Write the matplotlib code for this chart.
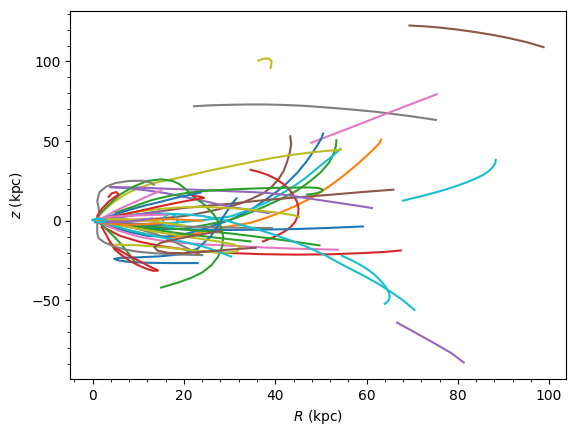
import matplotlib
matplotlib.use("Agg")
import matplotlib.pyplot as plt
from matplotlib.ticker import MultipleLocator

# Orbits in (R [kpc], z [kpc])
orbit_brown_top = [(69.4, 122.6), (73, 122.0), (76, 121.3), (80, 120.0), (84.2, 118.3), (88, 116.5),
                   (91, 114.8), (95, 112.2), (98.8, 109)]
orbit_olive_hook = [(36.3, 100.6), (37.5, 101.8), (38.6, 101.8), (39.2, 100.2), (39.1, 97.5), (39.0, 96.0)]
orbit_gray_high = [(22.2, 71.9), (26, 72.5), (30, 72.8), (34, 73), (38, 73), (42, 72.7), (46, 72.2),
                   (50, 71.4), (54, 70.5), (58, 69.5), (62, 68.4), (66, 67.0), (70, 65.5), (75.2, 63.3)]
orbit_pink_far = [(47.9, 49), (55, 56.8), (62, 64.6), (68, 71.3), (75.4, 79.4)]
orbit_cyan_far = [(68, 12.6), (70, 14), (72, 15.4), (74, 16.9), (76, 18.5), (78, 20.2), (80, 22.1),
                  (82, 24.2), (84, 26.6), (85.5, 28.7), (86.7, 31), (87.6, 33.5), (88.2, 36), (88.3, 38.2)]
orbit_orange = [(1, 0), (4, -3), (8, -6), (12, -8.5), (17, -10.5), (21, -9), (25, -6.5), (30, -3.5),
                (34.6, -1.3), (38, 1.8), (41, 5), (44, 8.7), (47, 13), (50, 18), (53, 24), (55.5, 29.5),
                (58, 35.5), (60.5, 42), (62.8, 48.5), (63.2, 51)]
orbit_brown_vert = [(2, 0), (8, 0.5), (13, 1), (17, 2), (21, 3.3), (24, 5), (27, 6.8), (30.2, 9),
                    (32.5, 11), (35, 14), (37.5, 17.4), (39.3, 21.5), (40.7, 26), (41.8, 31),
                    (42.6, 37), (43.2, 43), (43.5, 48), (43.3, 53)]
orbit_blue_tall = [(1, -1), (4, -4), (8, -7), (12, -9.5), (16, -10), (20, -8.5), (24, -5.5), (27, -2.5),
                   (30.2, 0.6), (33, 4.5), (35.5, 8.5), (37.5, 12.5), (40, 17.5), (42.5, 23.5),
                   (44.8, 30), (46.8, 37), (48.6, 44.5), (50.0, 51), (50.5, 54.7)]
orbit_green_tall = [(2, -1), (6, -3), (10, -4.5), (15, -5.5), (20, -5), (25, -2.5), (30.2, 0.6),
                    (34, 4.5), (37.5, 8.7), (41, 13.3), (44.8, 19), (47.5, 24.5), (50, 30.5),
                    (51.8, 36.5), (52.8, 42), (53.3, 47), (53.4, 50.5)]
orbit_cyan_tall = [(3, -1), (9, -2), (15, -2), (21, -0.5), (26, 1), (30.2, 2.7), (35, 7.5), (38.5, 12),
                   (41.1, 16.5), (44, 21.5), (46.5, 26.5), (48.6, 31.5), (50.5, 36), (52.5, 40.5),
                   (54.3, 45.1)]
orbit_olive_long = [(0.5, 0), (1.3, 3), (2.7, 7), (4.5, 11.5), (6.8, 16), (9.5, 20), (13.4, 23.7),
                    (17, 25.8), (21, 28.4), (25.5, 31.4), (30.2, 34.2), (35, 37), (39, 39.2),
                    (43, 41.1), (47, 42.6), (51, 43.8), (54.3, 44.5)]
orbit_red_arc = [(34.6, 32), (36.5, 30.6), (38.5, 28.6), (40.3, 26), (41.8, 23), (43.1, 19.5), (44.1, 15.5),
                 (44.8, 11.5), (45.1, 7.5), (45, 3.5), (44.4, -0.5), (43.3, -4.2), (41.6, -7.5),
                 (39.6, -10.4), (37.3, -13)]
orbit_brown_flat = [(3, 1), (10, 4), (20, 8), (30.2, 10.7), (37.5, 12.9), (45, 14.7), (52, 16.3),
                    (59, 18), (65.9, 19.5)]
orbit_purple_flat = [(3.9, 21.2), (10, 20.8), (17, 20), (24, 19.3), (30.2, 18.5), (35, 18), (40, 17),
                     (44, 15.5), (48, 13.7), (51.5, 12.2), (55, 10.7), (58, 9.4), (61.2, 8)]
orbit_purple_mid = [(3.9, 21), (8, 20.3), (12, 19), (16, 17.3), (20, 15), (24, 12.6), (28, 10), (31, 8.3),
                    (34, 7), (36.5, 5.8), (38.6, 4.8)]
orbit_green_hairpin = [(5, 5), (9, 9), (13, 13), (17, 15.7), (21, 17.6), (25.5, 18.9), (30, 19.6), (35, 20.2),
                       (40, 20.6), (44, 20.8), (47, 20.9), (49.3, 20.6), (50.4, 19.6), (50.1, 18.3),
                       (49, 17.2), (47, 16.4)]
orbit_blue_flat = [(2, -1), (6, -2.6), (10, -3.8), (15, -4.8), (20, -5.4), (25, -5.7), (30.2, -5.8),
                   (37, -5.6), (44.8, -5.2), (52, -4.5), (59.2, -3.6)]
orbit_gray_flat = [(2, 0), (8, -1.6), (15, -3), (22, -3.8), (30, -4.3), (39.3, -4.6)]
orbit_green_low_a = [(1, 0), (5, -1.5), (10, -3), (15, -4.2), (20, -5.5), (25, -6.6), (30.2, -8),
                     (35, -9.7), (40, -11.5), (45, -13.5), (49.7, -15.5)]
orbit_green_low_b = [(1, 0), (6, -2.3), (12, -5), (18, -7.5), (25, -10), (30, -11.6), (34.6, -13)]
orbit_pink_low = [(2, -2), (6, -6.5), (10, -10), (15, -12.5), (20, -14), (25, -15), (30.2, -15.7),
                  (37.5, -16.8), (45, -17.6), (53.7, -18.2)]
orbit_red_low = [(3, -5), (6, -9.5), (10, -13), (15, -16), (20, -18), (25, -19.4), (30.2, -20.3),
                 (37, -21), (44.8, -21.3), (52, -21.1), (59.4, -20.3), (64, -19.6), (67.5, -18.7)]
orbit_cyan_diag = [(1, 0), (5, 2.5), (10, 4), (15, 4.5), (20, 4), (24, 3), (27, 1.5), (30, -0.5), (33, -3),
                   (36.5, -5.8), (40, -9), (43.5, -12.5), (47, -16.5), (50.8, -21.5), (54.3, -27),
                   (57.2, -31.3), (60, -35.5), (62.8, -40), (65.5, -45), (68, -50), (70.5, -56)]
orbit_cyan_hook = [(54.6, -22), (56.5, -24.5), (58.4, -27.3), (60.2, -30.5), (61.8, -34), (63.1, -37.7),
                   (64.2, -41.5), (64.9, -45), (65.1, -48), (64.7, -50.5), (64, -52.2)]
orbit_purple_low = [(66.7, -64), (70.5, -70), (74.7, -76.7), (78.5, -83), (81.3, -89)]
orbit_green_loop = [(15, -42), (18.5, -39), (21.5, -36), (24, -32.5), (26, -28), (27.5, -22.5),
                    (28.4, -16), (28.6, -9.9), (28, -3), (26.5, 4), (24.5, 10), (22, 15.3),
                    (20.5, 19.5), (19, 23), (17.5, 25), (15, 26), (12, 25), (9, 21.5), (6, 16.5),
                    (3.5, 10), (1.5, 4), (1, 2)]
orbit_green_drop = [(1, 0), (2.5, -4), (4, -8), (5.7, -13), (7.3, -18.5), (8.5, -23), (9.5, -27)]
orbit_blue_loop = [(23, -26.6), (17, -26.6), (12, -26.4), (8, -25.9), (5.7, -25), (4.7, -24), (6, -23.3),
                   (10, -23), (15, -22.3), (19.6, -21), (23, -17.5), (25.8, -10), (27.5, -3), (28.5, 2),
                   (29.8, 7.5), (30.6, 11), (31.5, 14)]
orbit_red_loop = [(3.9, -14), (5.3, -17.5), (7, -20.5), (9, -23.5), (11, -26.5), (12.8, -29.2),
                  (14, -30.8), (14.3, -31.3), (13.3, -31.5), (11.8, -30.2), (10, -28), (8, -25),
                  (6.3, -21.5), (4.8, -18), (3.9, -14), (3, -9), (2, -4)]
orbit_gray_loop = [(13.4, 22.6), (12.5, 24.2), (10.9, 25.1), (8, 25), (5, 23.7), (3, 21.5), (1.5, 18),
                   (1, 12.5), (1.3, 8), (1.5, 4), (1, 0), (1, -4), (1, -8), (1.3, -11), (2.5, -13.5),
                   (4.5, -16), (7, -18), (10, -19.5), (14, -20.5), (19, -21.2), (24, -21.6)]
orbit_gray_diag = [(1, 0), (5, -1.8), (8, -3.8), (11, -6), (14, -8.6), (17, -12), (20, -16.3), (23.6, -21.4)]
orbit_olive_low = [(1, 0), (5, -2.5), (10, -5), (15, -7.5), (20, -9.8), (24, -11.5), (28, -13.3),
                   (31, -15), (32.4, -17), (31.5, -19.3), (29, -20.3), (25, -19.5), (20, -18),
                   (15, -16.5), (10, -15.4), (5, -15)]
orbit_olive_mid = [(1, 0), (5, 3.2), (10, 5.8), (15, 7.5), (20, 8.5), (25, 8.6), (30, 8), (34, 7.1),
                   (38, 5.9), (41.5, 4.6), (44, 3.5), (45.2, 2.5)]
orbit_cyan_ring = [(18.6, 0), (18.3, 2.5), (17.5, 4), (16.5, 4), (15.7, 2.5), (15.4, 0), (15.7, -2.5),
                   (16.5, -4), (17.5, -4), (18.3, -2.5), (18.6, 0)]
orbit_pink_up = [(1, 0), (3, 3), (5, 6.2), (7.5, 9.5), (10, 12.7), (12.5, 16), (15, 19)]
orbit_pink_short = [(1, 0), (5, 1), (10, 0.5), (14, -1)]
orbit_purple_short = [(1, 0), (5, 1.7), (8, 3), (12, 4.6), (15.3, 6)]
orbit_orange_short = [(3, -1), (10, 0), (17, 1), (24, 0)]
orbit_red_up = [(1, 0), (5, 2.8), (10, 6), (14, 8.6), (18, 11), (21.5, 12.9), (24.4, 14.3), (23.5, 15.2),
                (22, 15.5)]
orbit_blue_up = [(1, 0), (4.5, 3.5), (8, 6.8), (11.5, 9.6), (15, 12), (19, 14.9), (23.6, 17.6)]
orbit_cyan_low = [(1, 0), (4.5, -3), (8, -6), (12, -8.6), (16, -11), (20, -13.3), (24, -16),
                  (27.5, -19.3), (30.3, -22.5)]
orbit_brown_low = [(35.7, -17), (32, -17.7), (28, -18.6), (24, -19.6), (20, -20.4), (16.5, -20.2),
                   (14.2, -18.8), (13.5, -16.5), (14.8, -14), (17.5, -12), (22, -9.5), (28, -6.5)]
orbit_red_small = [(1, 3), (2, 7.5), (3.5, 12), (5, 15.2), (5.7, 16.5), (5.2, 18), (4.2, 17.2), (3.5, 15)]
orbit_pink_core = [(0.5, 1), (4, 2.5), (8, 3.2), (12, 3.5), (16, 3.8)]
orbit_orange_core = [(0.5, -0.5), (4, -2), (8, -2.5), (12, -2.2), (15, -1.5)]
orbit_olive_core = [(0.5, 0.5), (4, 1), (8, 0.8), (12, 0), (16, -1.5), (20, -3)]
orbit_purple_core = [(0.5, -1), (4, -1), (8, -0.5), (11, 0.5), (13, 1.5)]
orbit_cyan_core = [(0, 0.5), (1, 1.2), (2, 1), (3, 0.2), (2.5, -0.8), (1, -1), (0, 0.5)]
orbit_blue_core = [(0.5, 0), (4, -1.2), (8, -2.2), (12, -2.5), (15, -2.2)]

orbits = [orbit_brown_top, orbit_olive_hook, orbit_gray_high, orbit_pink_far, orbit_cyan_far,
          orbit_orange, orbit_brown_vert, orbit_blue_tall, orbit_green_tall, orbit_cyan_tall,
          orbit_olive_long, orbit_red_arc, orbit_brown_flat, orbit_purple_flat, orbit_purple_mid,
          orbit_green_hairpin, orbit_blue_flat, orbit_gray_flat, orbit_green_low_a, orbit_green_low_b,
          orbit_pink_low, orbit_red_low, orbit_cyan_diag, orbit_cyan_hook, orbit_purple_low,
          orbit_green_loop, orbit_green_drop, orbit_blue_loop, orbit_red_loop, orbit_gray_loop,
          orbit_gray_diag, orbit_olive_low, orbit_olive_mid, orbit_cyan_ring, orbit_pink_up,
          orbit_pink_short, orbit_purple_short, orbit_orange_short, orbit_red_up, orbit_blue_up,
          orbit_cyan_low, orbit_brown_low, orbit_red_small, orbit_blue_core, orbit_orange_core,
          orbit_olive_core, orbit_purple_core, orbit_pink_core, orbit_cyan_core]
orbit_colors = ["C5", "C8", "C7", "C6", "C9",
                "C1", "C5", "C0", "C2", "C9",
                "C8", "C3", "C5", "C4", "C4",
                "C2", "C0", "C7", "C2", "C2",
                "C6", "C3", "C9", "C9", "C4",
                "C2", "C2", "C0", "C3", "C7",
                "C7", "C8", "C8", "C9", "C6",
                "C6", "C4", "C1", "C3", "C0",
                "C9", "C5", "C3", "C0", "C1",
                "C8", "C4", "C6", "C9"]

fig = plt.figure(figsize=(5.75, 4.33), dpi=100)
ax = fig.add_axes([0.1223, 0.1247, 0.862, 0.851])
for orb, col in zip(orbits, orbit_colors):
    R = [p[0] for p in orb]
    z = [p[1] for p in orb]
    ax.plot(R, z, color=col, lw=1.5)

ax.set_xlim(-4.9, 103.7)
ax.set_ylim(-99.4, 132)
ax.xaxis.set_major_locator(MultipleLocator(20))
ax.xaxis.set_minor_locator(MultipleLocator(4))
ax.yaxis.set_major_locator(MultipleLocator(50))
ax.yaxis.set_minor_locator(MultipleLocator(10))
ax.set_xlabel(r"$R$ (kpc)")
ax.set_ylabel(r"$z$ (kpc)")
fig.savefig("out.png", dpi=100)
